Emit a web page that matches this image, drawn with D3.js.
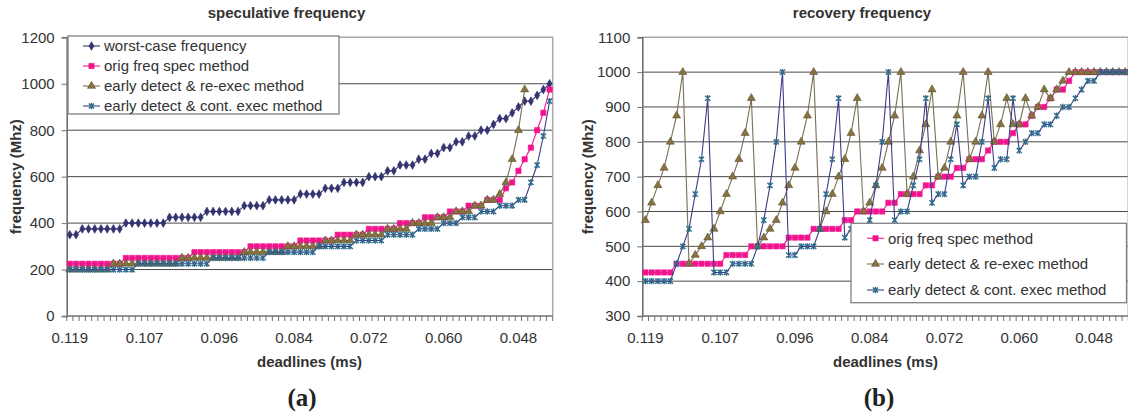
<!DOCTYPE html>
<html><head><meta charset="utf-8">
<script src="https://cdn.jsdelivr.net/npm/d3@7"></script>
<style>
html,body{margin:0;padding:0;background:#fff;}
svg text{font-family:"Liberation Sans",Arial,Helvetica,sans-serif;}
svg text.serif{font-family:"Liberation Serif","Times New Roman",serif;}
</style></head><body>
<svg id="c" width="1128" height="415"></svg>
<script>
// ---------------- DATA ----------------
const deadlines = [0.1190,0.1180,0.1170,0.1160,0.1150,0.1140,0.1130,0.1120,0.1110,0.1100,0.1090,0.1080,
  0.1070,0.1061,0.1052,0.1043,0.1034,0.1025,0.1015,0.1006,0.0997,0.0988,0.0979,0.0970,
  0.0960,0.0950,0.0940,0.0930,0.0920,0.0910,0.0900,0.0890,0.0880,0.0870,0.0860,0.0850,
  0.0840,0.0830,0.0820,0.0810,0.0800,0.0790,0.0780,0.0770,0.0760,0.0750,0.0740,0.0730,
  0.0720,0.0710,0.0700,0.0690,0.0680,0.0670,0.0660,0.0650,0.0640,0.0630,0.0620,0.0610,
  0.0600,0.0590,0.0580,0.0570,0.0560,0.0550,0.0540,0.0530,0.0520,0.0510,0.0500,0.0490,
  0.0480,0.0470,0.0460,0.0450,0.0440,0.0430];
const xTickLabels = ["0.119","0.107","0.096","0.084","0.072","0.060","0.048"];
const specYTicks = [0,200,400,600,800,1000,1200];
const recYTicks = [300,400,500,600,700,800,900,1000,1100];

// (a) speculative frequency
const specWorstCase = [350,350,
  375,375,375,375,375,375,375,
  400,400,400,400,400,400,400,
  425,425,425,425,425,425,
  450,450,450,450,450,450,
  475,475,475,475,
  500,500,500,500,500,
  525,525,525,525,
  550,550,550,
  575,575,575,575,
  600,600,600,
  625,625,
  650,650,650,
  675,675,
  700,700,
  725,725,
  750,750,
  775,775,
  800,800,
  825,
  850,850,
  875,900,925,925,950,975,1000];
const specOrigFreq = [225,225,225,225,225,225,225,225,225,
  250,250,250,250,250,250,250,250,250,250,250,
  275,275,275,275,275,275,275,275,275,
  300,300,300,300,300,300,300,300,
  325,325,325,325,325,325,
  350,350,350,350,350,
  375,375,375,375,375,
  400,400,400,400,
  425,425,425,425,
  450,450,450,
  475,475,475,
  500,500,500,
  550,575,625,675,725,800,875,975];
const specReExec = [200,200,200,200,200,200,200,
  225,225,225,225,225,225,225,225,225,225,225,
  250,250,250,250,250,250,250,250,250,250,
  275,275,275,275,275,275,275,
  300,300,300,300,300,300,
  325,325,325,325,325,
  350,350,350,350,350,
  375,375,375,375,
  400,400,400,400,
  425,425,425,
  450,450,450,
  475,475,
  500,500,
  525,575,675,800,975,
  null,null,null,null];
const specContExec = [200,200,200,200,200,200,200,200,200,200,200,
  225,225,225,225,225,225,225,225,225,225,225,225,
  250,250,250,250,250,250,250,250,250,
  275,275,275,275,275,275,275,275,
  300,300,300,300,300,300,
  325,325,325,325,325,
  350,350,350,350,350,
  375,375,375,375,
  400,400,400,
  425,425,425,
  450,450,450,
  475,475,475,
  500,500,
  575,650,775,925];

// (b) recovery frequency
const recOrigFreq = [425,425,425,425,425,
  450,450,450,450,450,450,450,450,
  475,475,475,475,
  500,500,500,500,500,500,
  525,525,525,525,
  550,550,550,550,550,
  575,575,
  600,600,600,600,600,
  625,625,
  650,650,650,650,
  675,675,
  700,700,700,
  725,725,
  750,750,750,
  775,
  800,800,800,
  825,
  850,850,
  875,
  900,900,
  925,
  950,950,
  975,
  1000,1000,1000,1000,1000,1000,1000,1000,1000];
const recReExec = [575,625,675,725,800,875,1000,
  450,475,500,525,550,600,650,700,750,825,925,
  500,525,550,575,625,675,725,800,875,1000,
  550,600,650,700,750,825,925,
  600,625,675,725,800,875,1000,
  650,700,775,850,950,
  700,725,800,875,1000,
  750,800,875,1000,
  800,850,925,
  850,850,925,
  875,900,950,
  925,950,975,
  1000,1000,1000,1000,1000,1000,1000,1000,1000,1000];
const recContExec = [400,400,400,400,400,
  450,500,550,650,750,925,
  425,425,425,
  450,450,450,450,
  500,575,675,800,1000,
  475,475,
  500,500,500,
  550,650,750,925,
  525,550,550,550,
  575,675,800,1000,
  575,600,600,675,750,925,
  625,650,650,750,850,
  675,700,700,800,925,
  725,750,750,925,
  775,800,825,825,850,850,875,900,900,925,950,975,975,
  1000,1000,1000,1000,1000];

const seriesNames = {
  worst: "worst-case frequency",
  orig: "orig freq spec method",
  reexec: "early detect & re-exec method",
  cont: "early detect & cont. exec method"
};

// ---------------- STYLES ----------------
const styles = {
  worst:  {line:"#333370", fill:"#333370", stroke:"#333370", shape:"diamond"},
  orig:   {line:"#f2148e", fill:"#f2148e", stroke:"#f2148e", shape:"square"},
  reexec: {line:"#7a6f55", fill:"#86733f", stroke:"#5f5232", shape:"triangle"},
  cont:   {line:"#3c3c88", fill:"none",    stroke:"#2e6b8c", shape:"star"}
};

const svg = d3.select("#c");
const fmt = d3.format(".3f");
const cats = deadlines.map(d => d.toFixed(4));

function marker(g, shape, x, y, st) {
  if (shape === "star") {
    g.append("path")
      .attr("d", "M-2.6,-2.6L2.6,2.6M-2.6,2.6L2.6,-2.6M0,-3.2L0,3.2")
      .attr("transform", `translate(${x},${y})`)
      .attr("stroke", st.stroke).attr("stroke-width", 1.4).attr("fill", "none");
  } else {
    const t = {diamond: d3.symbolDiamond, square: d3.symbolSquare, triangle: d3.symbolTriangle}[shape];
    const size = {diamond: 22, square: 28, triangle: 28}[shape];
    g.append("path")
      .attr("d", d3.symbol().type(t).size(size)())
      .attr("transform", `translate(${x},${y})`)
      .attr("fill", st.fill).attr("stroke", st.stroke).attr("stroke-width", 0.6);
  }
}

function drawChart(cfg) {
  const g = svg.append("g");
  const x = d3.scaleBand().domain(cats).range([cfg.x0, cfg.x1]).padding(0);
  const y = d3.scaleLinear().domain(cfg.yDomain).range([cfg.yBot, cfg.yTop]);
  const cx = i => x(cats[i]) + x.bandwidth() / 2;

  // gridlines
  g.append("g").selectAll("line").data(cfg.yTicks.slice(1, -1)).join("line")
    .attr("x1", cfg.x0).attr("x2", cfg.x1)
    .attr("y1", d => y(d)).attr("y2", d => y(d))
    .attr("stroke", "#4a4a4a").attr("stroke-width", 1);
  // plot border top / right
  g.append("path")
    .attr("d", `M${cfg.x0},${y(cfg.yDomain[1])}H${cfg.x1}V${cfg.yBot}`)
    .attr("fill", "none").attr("stroke", "#a8a8a8").attr("stroke-width", 1.5);

  // y axis
  const yAx = g.append("g").attr("transform", `translate(${cfg.x0},0)`)
    .call(d3.axisLeft(y).tickValues(cfg.yTicks).tickSize(5).tickPadding(7).tickFormat(d3.format("d")));
  yAx.select(".domain").attr("stroke", "#707070").attr("stroke-width", 1.6);
  yAx.selectAll(".tick line").attr("stroke", "#707070");
  yAx.selectAll("text").attr("font-size", 15).attr("fill", "#333");

  // x axis: line, ticks between categories, labels every 12
  g.append("line").attr("x1", cfg.x0).attr("x2", cfg.x1)
    .attr("y1", cfg.yBot).attr("y2", cfg.yBot)
    .attr("stroke", "#707070").attr("stroke-width", 1.6);
  const bounds = cats.map(c => x(c)).concat([cfg.x1]);
  g.append("g").selectAll("line").data(bounds).join("line")
    .attr("x1", d => d).attr("x2", d => d)
    .attr("y1", cfg.yBot).attr("y2", cfg.yBot + 5)
    .attr("stroke", "#707070").attr("stroke-width", 1);
  const labelIdx = cats.map((c, i) => i).filter(i => xTickLabels.includes(fmt(deadlines[i])));
  g.append("g").selectAll("text").data(labelIdx).join("text")
    .attr("x", i => cx(i)).attr("y", 343)
    .attr("text-anchor", "middle").attr("font-size", 15).attr("fill", "#333")
    .text(i => fmt(deadlines[i]));

  // titles
  g.append("text").attr("x", cfg.titleX).attr("y", 18).attr("text-anchor", "middle")
    .attr("font-size", 15).attr("font-weight", "bold").attr("fill", "#333").text(cfg.title);
  g.append("text").attr("x", cfg.xTitleX).attr("y", 367).attr("text-anchor", "middle")
    .attr("font-size", 15).attr("font-weight", "bold").attr("fill", "#333").text("deadlines (ms)");
  g.append("text").attr("transform", `translate(${cfg.yTitleX},${(cfg.yTop + cfg.yBot) / 2}) rotate(-90)`)
    .attr("text-anchor", "middle").attr("dy", "0.35em")
    .attr("font-size", 15).attr("font-weight", "bold").attr("fill", "#333").text("frequency (Mhz)");
  g.append("text").attr("class", "serif").attr("x", cfg.subX).attr("y", 406).attr("text-anchor", "middle")
    .attr("font-size", 25).attr("font-weight", "bold").attr("fill", "#222").text(cfg.sub);

  // series
  cfg.series.forEach(s => {
    const st = styles[s.key];
    const line = d3.line().defined(d => d != null).x((d, i) => cx(i)).y(d => y(d));
    g.append("path").datum(s.values).attr("d", line)
      .attr("fill", "none").attr("stroke", st.line).attr("stroke-width", 1.1);
    const mg = g.append("g");
    s.values.forEach((v, i) => { if (v != null) marker(mg, st.shape, cx(i), y(v), st); });
  });

  // legend
  const L = cfg.legend;
  g.append("rect").attr("x", L.x).attr("y", L.y).attr("width", L.w).attr("height", L.h)
    .attr("fill", "#fff").attr("stroke", "#808080").attr("stroke-width", 1.3);
  cfg.series.forEach((s, i) => {
    const st = styles[s.key];
    const ry = L.rowY[i];
    g.append("line").attr("x1", L.symX0).attr("x2", L.symX1).attr("y1", ry).attr("y2", ry)
      .attr("stroke", st.line).attr("stroke-width", 1.1);
    marker(g, st.shape, (L.symX0 + L.symX1) / 2, ry, st);
    g.append("text").attr("x", L.textX).attr("y", ry).attr("dy", "0.35em")
      .attr("font-size", 15).attr("fill", "#333").text(seriesNames[s.key]);
  });
}

drawChart({
  x0: 66.7, x1: 552.7, yTop: 37.3, yBot: 316, yDomain: [0, 1200], yTicks: specYTicks,
  title: "speculative frequency", titleX: 286.5, xTitleX: 309.5, yTitleX: 16, sub: "(a)", subX: 302,
  series: [
    {key: "worst", values: specWorstCase},
    {key: "orig", values: specOrigFreq},
    {key: "reexec", values: specReExec},
    {key: "cont", values: specContExec}
  ],
  legend: {x: 68, y: 36, w: 271, h: 78, rowY: [46, 66, 86, 106], symX0: 83, symX1: 100, textX: 104}
});

drawChart({
  x0: 642.3, x1: 1128.3, yTop: 37.3, yBot: 316, yDomain: [300, 1100], yTicks: recYTicks,
  title: "recovery frequency", titleX: 862, xTitleX: 885.5, yTitleX: 588, sub: "(b)", subX: 879,
  series: [
    {key: "orig", values: recOrigFreq},
    {key: "reexec", values: recReExec},
    {key: "cont", values: recContExec}
  ],
  legend: {x: 851, y: 223.3, w: 275.5, h: 79.4, rowY: [238.3, 264, 290], symX0: 867, symX1: 884, textX: 888}
});
</script>
</body></html>
